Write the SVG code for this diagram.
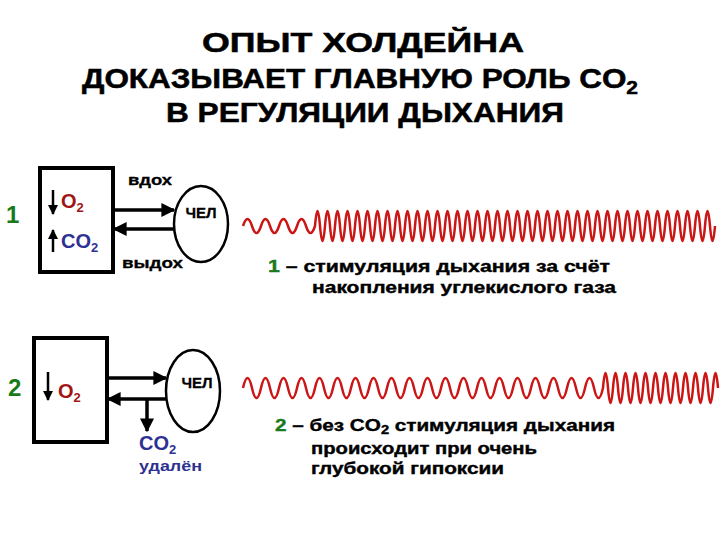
<svg xmlns="http://www.w3.org/2000/svg" width="720" height="540" viewBox="0 0 720 540">
<defs>
<marker id="ah" viewBox="0 0 10 10" refX="9" refY="5" markerWidth="4" markerHeight="4" orient="auto"><path d="M0,0L10,5L0,10z" fill="#000"/></marker>
</defs>
<style>
text{font-family:"Liberation Sans",Arial,sans-serif;font-weight:bold}
.t{font-size:27px;fill:#000;stroke:#000;stroke-width:0.5}
.s{font-size:17px;fill:#000;stroke:#000;stroke-width:0.4}
.sm{font-size:15px;fill:#000;stroke:#000;stroke-width:0.3}
.o{fill:#a01414;font-size:20px}
.c{fill:#2e3192;font-size:20px}
.n{fill:#1a7a1a;font-size:24px}
.box{fill:#fff;stroke:#000;stroke-width:4}
.ell{fill:#fff;stroke:#000;stroke-width:2.5}
.ln{stroke:#000;stroke-width:3.5;fill:none;marker-end:url(#ah)}
.ar{stroke:#000;stroke-width:2.5;fill:none;marker-end:url(#ah)}
.w{fill:none;stroke:#cc1515;stroke-width:2.5}
</style>
<rect width="720" height="540" fill="#fff"/>
<text class="t" x="202" y="52" textLength="322" lengthAdjust="spacingAndGlyphs">ОПЫТ ХОЛДЕЙНА</text>
<text class="t" x="82" y="88" font-size="25" textLength="556" lengthAdjust="spacingAndGlyphs">ДОКАЗЫВАЕТ ГЛАВНУЮ РОЛЬ <tspan>CO</tspan><tspan font-size="18" dy="6">2</tspan></text>
<text class="t" x="166" y="122" textLength="398" lengthAdjust="spacingAndGlyphs">В РЕГУЛЯЦИИ ДЫХАНИЯ</text>
<g id="n1">
<text class="n" x="6" y="223">1</text>
<rect class="box" x="40" y="168" width="73" height="104"/>
<line class="ar" x1="53" y1="190" x2="53" y2="214"/>
<text class="o" x="61" y="208">O<tspan font-size="13" dy="4">2</tspan></text>
<line class="ar" x1="53" y1="252" x2="53" y2="230"/>
<text class="c" x="61" y="248">CO<tspan font-size="13" dy="4">2</tspan></text>
</g>
<g id="h1">
<ellipse class="ell" cx="201" cy="224" rx="27" ry="38"/>
<text class="sm" x="201" y="218" text-anchor="middle" font-size="14">ЧЕЛ</text>
</g>
<g id="n2">
<text class="n" x="8" y="396">2</text>
<rect class="box" x="34" y="338" width="73" height="104"/>
<line class="ar" x1="48" y1="372" x2="48" y2="400"/>
<text class="o" x="58" y="398">O<tspan font-size="13" dy="4">2</tspan></text>
</g>
<g id="h2">
<ellipse class="ell" cx="193" cy="391" rx="27" ry="41"/>
<text class="sm" x="197" y="388" text-anchor="middle" font-size="14">ЧЕЛ</text>
</g>
<g id="connectors">
<line class="ln" x1="113" y1="210" x2="174" y2="210"/>
<line class="ln" x1="174" y1="229" x2="114" y2="229"/>
<line class="ln" x1="107" y1="378" x2="166" y2="378"/>
<line class="ln" x1="166" y1="399" x2="108" y2="399"/>
<line class="ln" x1="147" y1="399" x2="147" y2="431"/>
</g>
<text class="sm" x="128" y="185" textLength="44" lengthAdjust="spacingAndGlyphs">вдох</text>
<text class="sm" x="122" y="268" textLength="61" lengthAdjust="spacingAndGlyphs">выдох</text>
<text class="c" x="139" y="450">CO<tspan font-size="13" dy="4">2</tspan></text>
<text x="139" y="471" font-size="15" fill="#2e3192" textLength="63" lengthAdjust="spacingAndGlyphs">удалён</text>
<path class="w" d="M243,226 q4.5,-14 9,0 t9,0 t9,0 t9,0 t9,0 t9,0 t9,0 t9,0 q2.5,-30 5,0 t5,0 t5,0 t5,0 t5,0 t5,0 t5,0 t5,0 t5,0 t5,0 t5,0 t5,0 t5,0 t5,0 t5,0 t5,0 t5,0 t5,0 t5,0 t5,0 t5,0 t5,0 t5,0 t5,0 t5,0 t5,0 t5,0 t5,0 t5,0 t5,0 t5,0 t5,0 t5,0 t5,0 t5,0 t5,0 t5,0 t5,0 t5,0 t5,0 t5,0 t5,0 t5,0 t5,0 t5,0 t5,0 t5,0 t5,0 t5,0 t5,0 t5,0 t5,0 t5,0 t5,0 t5,0 t5,0 t5,0 t5,0 t5,0 t5,0 t5,0 t5,0 t5,0 t5,0 t5,0 t5,0 t5,0 t5,0 t5,0 t5,0 t5,0 t5,0 t5,0 t5,0 t5,0 t5,0 t5,0 t5,0 t5,0 t5,0"/>
<path class="w" d="M243,388 q4.5,-20 9,0 t9,0 t9,0 t9,0 t9,0 t9,0 t9,0 t9,0 t9,0 t9,0 t9,0 t9,0 t9,0 t9,0 t9,0 t9,0 t9,0 t9,0 t9,0 t9,0 t9,0 t9,0 t9,0 t9,0 t9,0 t9,0 t9,0 t9,0 t9,0 t9,0 t9,0 t9,0 t9,0 t9,0 t9,0 t9,0 t9,0 t9,0 t9,0 t9,0 q2.5,-30 5,0 t5,0 t5,0 t5,0 t5,0 t5,0 t5,0 t5,0 t5,0 t5,0 t5,0 t5,0 t5,0 t5,0 t5,0 t5,0 t5,0 t5,0 t5,0 t5,0 t5,0 t5,0 t5,0"/>
<text class="s" x="268" y="272" textLength="342" lengthAdjust="spacingAndGlyphs"><tspan fill="#1a7a1a" stroke="#1a7a1a">1</tspan> – стимуляция дыхания за счёт</text>
<text class="s" x="312" y="293" textLength="304" lengthAdjust="spacingAndGlyphs">накопления углекислого газа</text>
<text class="s" x="275" y="431" textLength="340" lengthAdjust="spacingAndGlyphs"><tspan fill="#1a7a1a" stroke="#1a7a1a">2</tspan> – без CO<tspan font-size="12" dy="3">2</tspan><tspan dy="-3"> стимуляция дыхания</tspan></text>
<text class="s" x="311" y="454" textLength="226" lengthAdjust="spacingAndGlyphs">происходит при очень</text>
<text class="s" x="311" y="474" textLength="193" lengthAdjust="spacingAndGlyphs">глубокой гипоксии</text>
</svg>
